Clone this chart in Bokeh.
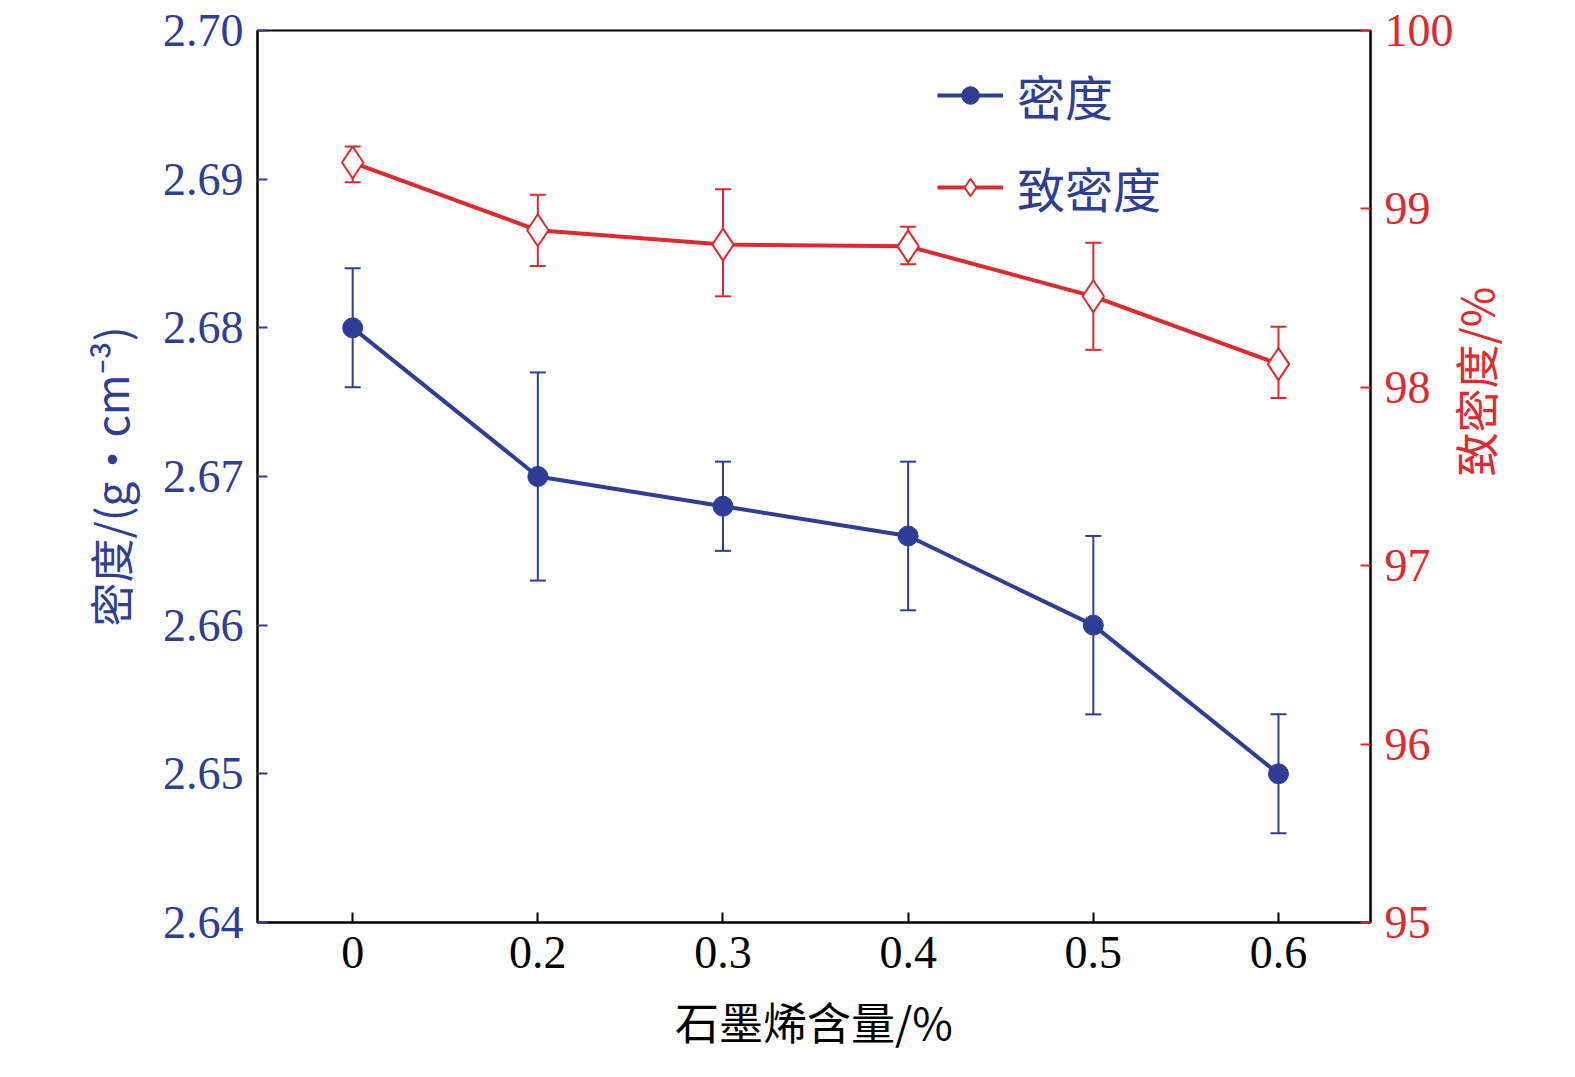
import math
from bokeh.plotting import figure
from bokeh.models import (Range1d, LinearAxis, Whisker, TeeHead, ColumnDataSource,
                          Legend, LegendItem, FixedTicker)
from bokeh.embed import file_html
from bokeh.resources import INLINE

# Data
contents = ['0', '0.2', '0.3', '0.4', '0.5', '0.6']
density = [2.680, 2.670, 2.668, 2.666, 2.660, 2.650]
density_lo = [2.676, 2.663, 2.665, 2.661, 2.654, 2.646]
density_hi = [2.684, 2.677, 2.671, 2.671, 2.666, 2.654]
relden = [99.26, 98.88, 98.80, 98.79, 98.51, 98.13]
relden_lo = [99.15, 98.68, 98.51, 98.69, 98.21, 97.94]
relden_hi = [99.35, 99.08, 99.11, 98.90, 98.81, 98.34]

blue = '#2E3D98'
red = '#E0282E'
serif = 'Liberation Serif'
cjk = 'Noto Sans CJK SC'

x = list(range(len(contents)))
src_d = ColumnDataSource(dict(x=x, y=density, lo=density_lo, hi=density_hi))
src_r = ColumnDataSource(dict(x=x, y=relden, lo=relden_lo, hi=relden_hi))

p = figure(width=1559, height=1061, output_backend="svg", toolbar_location=None,
           x_range=Range1d(-0.514, 5.497), y_range=Range1d(2.64, 2.70),
           min_border_left=257, min_border_right=189, min_border_top=30, min_border_bottom=139)
p.extra_y_ranges = {'rel': Range1d(95, 100)}
p.grid.visible = False
p.outline_line_color = 'black'
p.outline_line_width = 2

# Axes
p.xaxis.ticker = FixedTicker(ticks=x)
p.xaxis.major_label_overrides = {i: c for i, c in zip(x, contents)}
p.xaxis.axis_label = '石墨烯含量/%'
p.yaxis.ticker = FixedTicker(ticks=[2.64, 2.65, 2.66, 2.67, 2.68, 2.69, 2.70])
p.yaxis.major_label_overrides = {2.64: '2.64', 2.65: '2.65', 2.66: '2.66', 2.67: '2.67',
                                 2.68: '2.68', 2.69: '2.69', 2.70: '2.70'}
p.yaxis.axis_label = '密度/(g·cm⁻³)'

ra = LinearAxis(y_range_name='rel', axis_label='致密度/%',
                ticker=FixedTicker(ticks=[95, 96, 97, 98, 99, 100]))
p.add_layout(ra, 'right')

for ax, col in [(p.xaxis[0], 'black'), (p.yaxis[0], blue), (ra, red)]:
    ax.axis_line_color = 'black'
    ax.axis_line_width = 2
    ax.major_tick_line_color = col
    ax.major_tick_line_width = 2
    ax.major_tick_in = 10
    ax.major_tick_out = 0
    ax.minor_tick_line_color = None
    ax.major_label_text_font = serif
    ax.major_label_text_font_size = '46px'
    ax.major_label_text_color = col
    ax.major_label_standoff = 14
    ax.axis_label_text_font = cjk
    ax.axis_label_text_font_size = '44px'
    ax.axis_label_text_font_style = 'normal'
    ax.axis_label_text_color = col
    ax.axis_label_standoff = 18
ra.axis_label_orientation = math.pi / 2

# Error bars
p.add_layout(Whisker(source=src_d, base='x', upper='hi', lower='lo', line_color=blue, line_width=2,
                     upper_head=TeeHead(size=16, line_color=blue, line_width=2),
                     lower_head=TeeHead(size=16, line_color=blue, line_width=2)))
p.add_layout(Whisker(source=src_r, base='x', upper='hi', lower='lo', line_color=red, line_width=2,
                     y_range_name='rel',
                     upper_head=TeeHead(size=16, line_color=red, line_width=2),
                     lower_head=TeeHead(size=16, line_color=red, line_width=2)))

# Lines and markers
l1 = p.line('x', 'y', source=src_d, line_color=blue, line_width=4)
m1 = p.scatter('x', 'y', source=src_d, marker='circle', size=20, fill_color=blue, line_color=blue)
l2 = p.line('x', 'y', source=src_r, line_color=red, line_width=4, y_range_name='rel')
m2 = p.scatter('x', 'y', source=src_r, marker='diamond', size=32, fill_color='white',
               line_color=red, line_width=2, y_range_name='rel')

legend = Legend(items=[LegendItem(label='密度', renderers=[l1, m1]),
                       LegendItem(label='致密度', renderers=[l2, m2])],
                location=(680, 700), border_line_color=None, background_fill_alpha=0,
                label_text_font=cjk, label_text_font_size='48px', glyph_width=66,
                glyph_height=44, spacing=22, label_standoff=14)
legend.label_text_color = blue
p.add_layout(legend)

open("out.html", "w").write(file_html(p, INLINE))
